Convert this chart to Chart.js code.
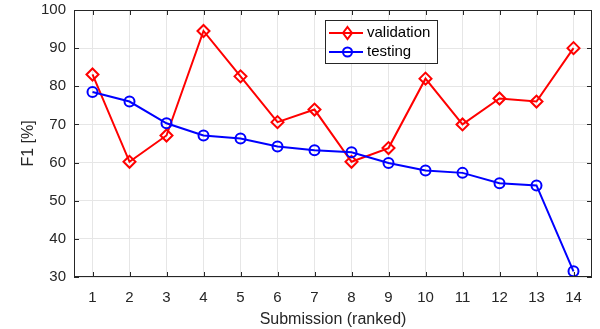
<!DOCTYPE html>
<html>
<head>
<meta charset="utf-8">
<script src="https://cdn.jsdelivr.net/npm/chart.js@4"></script>
<style>
  html, body { margin: 0; padding: 0; background: #fff; }
  #wrap { width: 600px; height: 329px; }
</style>
</head>
<body>
<div id="wrap"><canvas id="lineChart" width="600" height="329"></canvas></div>
<script>
var submissions = [1, 2, 3, 4, 5, 6, 7, 8, 9, 10, 11, 12, 13, 14];
var validation = [83.1, 60.2, 67.1, 94.5, 82.6, 70.6, 73.9, 60.2, 63.8, 82.0, 70.0, 76.8, 76.0, 90.0];
var testing = [78.5, 76.0, 70.3, 67.1, 66.3, 64.2, 63.2, 62.7, 59.9, 57.9, 57.3, 54.6, 54.0, 31.5];
var yTicks = [30, 40, 50, 60, 70, 80, 90, 100];

var font = 'Liberation Sans, Arial, sans-serif';

function points(vals) {
    return submissions.map(function (s, i) { return { x: s, y: vals[i] }; });
}

// box around the plot, inward ticks and the legend inside the axes
var boxPlugin = {
    id: 'box',
    afterDraw: function (chart) {
        var c = chart.ctx, a = chart.chartArea;
        var xs = chart.scales.x, ys = chart.scales.y;
        c.save();
        c.strokeStyle = '#262626';
        c.lineWidth = 1;
        c.strokeRect(a.left + 0.5, a.top + 0.5, a.right - a.left - 1, a.bottom - a.top - 1);
        c.beginPath();
        submissions.forEach(function (s) {
            var px = Math.round(xs.getPixelForValue(s)) + 0.5;
            c.moveTo(px, a.bottom); c.lineTo(px, a.bottom - 5);
            c.moveTo(px, a.top); c.lineTo(px, a.top + 5);
        });
        yTicks.forEach(function (t) {
            var py = Math.round(ys.getPixelForValue(t)) + 0.5;
            c.moveTo(a.left, py); c.lineTo(a.left + 5, py);
            c.moveTo(a.right, py); c.lineTo(a.right - 5, py);
        });
        c.stroke();

        // legend
        var lx = 325, ly = 20, lw = 112, lh = 43;
        c.fillStyle = '#fff';
        c.fillRect(lx, ly, lw, lh);
        c.strokeStyle = '#262626';
        c.strokeRect(lx + 0.5, ly + 0.5, lw, lh);
        var rows = [
            { label: 'validation', color: '#ff0000', style: 'diamond', y: ly + 13 },
            { label: 'testing', color: '#0000ff', style: 'circle', y: ly + 32 }
        ];
        rows.forEach(function (r) {
            c.strokeStyle = r.color;
            c.lineWidth = 2;
            c.beginPath();
            c.moveTo(lx + 4, r.y); c.lineTo(lx + 38, r.y);
            c.stroke();
            var mx = lx + 22.5;
            c.beginPath();
            if (r.style === 'diamond') {
                c.moveTo(mx, r.y - 6); c.lineTo(mx + 4.5, r.y); c.lineTo(mx, r.y + 6); c.lineTo(mx - 4.5, r.y); c.closePath();
            } else {
                c.arc(mx, r.y, 4.5, 0, Math.PI * 2);
            }
            c.stroke();
            c.fillStyle = '#000';
            c.font = '15px ' + font;
            c.textBaseline = 'middle';
            c.fillText(r.label, lx + 42, r.y);
        });
        c.restore();
    }
};

var ctx = document.getElementById('lineChart').getContext('2d');
var myChart = new Chart(ctx, {
    type: 'line',
    data: {
        datasets: [
            {
                label: 'validation',
                data: points(validation),
                borderColor: '#ff0000',
                backgroundColor: 'rgba(0,0,0,0)',
                borderWidth: 2,
                pointStyle: 'rectRot',
                pointRadius: 6,
                pointBorderWidth: 2,
                tension: 0,
                order: 1
            },
            {
                label: 'testing',
                data: points(testing),
                borderColor: '#0000ff',
                backgroundColor: 'rgba(0,0,0,0)',
                borderWidth: 2,
                pointStyle: 'circle',
                pointRadius: 5,
                pointBorderWidth: 2,
                tension: 0,
                order: 0
            }
        ]
    },
    options: {
        responsive: false,
        animation: false,
        layout: { padding: { left: 19, right: 3, top: 10, bottom: 0 } },
        plugins: {
            legend: { display: false },
            tooltip: { enabled: false }
        },
        scales: {
            x: {
                type: 'linear',
                min: 0.5,
                max: 14.5,
                afterBuildTicks: function (s) {
                    s.ticks = submissions.map(function (v) { return { value: v }; });
                },
                afterFit: function (s) {
                    s.height = 52;
                    s.paddingLeft = 0; s.paddingRight = 0;
                },
                grid: { color: '#e6e6e6', drawTicks: false },
                border: { display: false },
                ticks: {
                    color: '#262626',
                    padding: 12,
                    maxRotation: 0,
                    font: { family: font, size: 15 }
                },
                title: {
                    display: true,
                    text: 'Submission (ranked)',
                    color: '#262626',
                    padding: { top: 3, bottom: 0 },
                    font: { family: font, size: 16 }
                }
            },
            y: {
                min: 30,
                max: 100,
                afterBuildTicks: function (s) {
                    s.ticks = yTicks.map(function (v) { return { value: v }; });
                },
                afterFit: function (s) {
                    s.width = 55;
                    s.paddingTop = 0; s.paddingBottom = 0;
                },
                grid: { color: '#e6e6e6', drawTicks: false },
                border: { display: false },
                ticks: {
                    color: '#262626',
                    padding: 8,
                    font: { family: font, size: 15 }
                },
                title: {
                    display: true,
                    text: 'F1 [%]',
                    color: '#262626',
                    padding: { top: 0, bottom: 0 },
                    font: { family: font, size: 16 }
                }
            }
        }
    },
    plugins: [boxPlugin]
});
</script>
</body>
</html>
